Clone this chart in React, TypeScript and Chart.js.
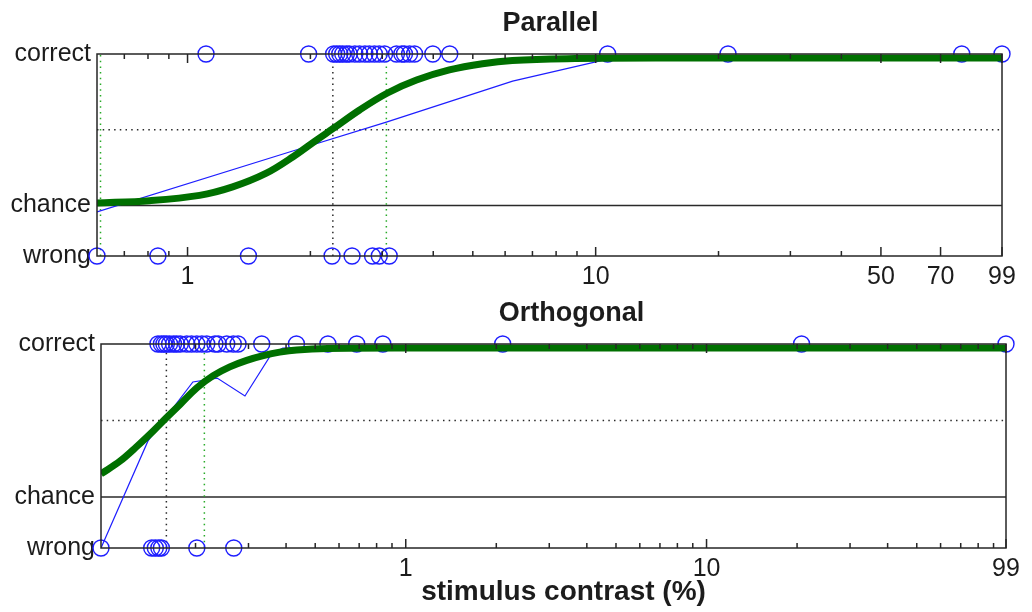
import React, { useEffect, useRef } from 'react';
import { Chart, registerables } from 'chart.js';

Chart.register(...registerables);

const FONT = '"Liberation Sans", Arial, Helvetica, sans-serif';
const TEXT = '#1c1c1c';
const BLUE = 'rgb(30,30,255)';
const GREEN = 'rgb(0,112,0)';
const DOT_GREEN = 'rgb(40,170,40)';
const DOT_BLACK = '#2a2a2a';

// y levels and their names
const Y_TICKS = [0, 0.25, 1];
const Y_LABELS = ['wrong', 'chance', 'correct'];
const CHANCE = 0.25;
const HALFWAY = 0.625;
const X_MAX = 99;

// ---- Parallel ----
const parMin = 0.6;
const parCorrectX = [1.11, 1.98, 2.28, 2.32, 2.36, 2.40, 2.45, 2.49, 2.57, 2.64, 2.72, 2.79, 2.87, 2.95, 3.04, 3.25, 3.35, 3.40, 3.50, 3.60, 3.99, 4.39, 10.7, 21.1, 78.9, 99];
const parWrongX = [0.6, 0.846, 1.41, 2.26, 2.53, 2.84, 2.95, 3.12];
const parRunX = [0.6, 1.81, 3.07, 6.26, 10.7, 99];
const parRunY = [0.218, 0.52, 0.663, 0.866, 0.975, 0.98];
const parFitX = [0.6, 0.807, 1.07, 1.29, 1.56, 1.81, 2.07, 2.27, 2.64, 3.09, 3.64, 4.38, 5.28, 6.25, 8.5, 14, 99];
const parFitY = [0.262, 0.274, 0.3, 0.342, 0.41, 0.49, 0.574, 0.63, 0.723, 0.807, 0.871, 0.921, 0.952, 0.968, 0.977, 0.98, 0.98];
const parThreshold = [2.27];
const parBounds = [0.612, 3.07];
const parTicks = [0.7, 0.8, 0.9, 1, 2, 3, 4, 5, 6, 7, 8, 9, 10, 20, 30, 40, 50, 70, 99];
const parLabeled = [1, 10, 50, 70, 99];

// ---- Orthogonal ----
const orthMin = 0.097;
const orthCorrectX = [0.150, 0.154, 0.157, 0.160, 0.164, 0.169, 0.173, 0.178, 0.187, 0.194, 0.202, 0.210, 0.218, 0.232, 0.238, 0.254, 0.267, 0.277, 0.332, 0.433, 0.551, 0.687, 0.839, 2.10, 20.7, 99];
const orthWrongX = [0.097, 0.143, 0.147, 0.151, 0.154, 0.202, 0.268];
const orthRunX = [0.097, 0.139, 0.196, 0.236, 0.292, 0.356, 0.39, 99];
const orthRunY = [0, 0.525, 0.814, 0.833, 0.745, 0.946, 0.98, 0.98];
const orthFitX = [0.097, 0.112, 0.127, 0.145, 0.160, 0.178, 0.202, 0.229, 0.260, 0.296, 0.336, 0.381, 0.434, 0.55, 1, 99];
const orthFitY = [0.363, 0.425, 0.495, 0.575, 0.638, 0.705, 0.785, 0.845, 0.888, 0.920, 0.943, 0.960, 0.971, 0.978, 0.98, 0.98];
const orthThreshold = [0.160];
const orthBounds = [0.214];
const orthTicks = [0.2, 0.3, 0.4, 0.5, 0.6, 0.7, 0.8, 0.9, 1, 2, 3, 4, 5, 6, 7, 8, 9, 10, 20, 30, 40, 50, 60, 70, 80, 90, 99];
const orthLabeled = [1, 10, 99];

const X_TITLE = 'stimulus contrast (%)';

type Pt = { x: number; y: number };
const atLevel = (xs: number[], y: number): Pt[] => xs.map((x) => ({ x, y }));
const zip = (xs: number[], ys: number[]): Pt[] => xs.map((x, i) => ({ x, y: ys[i] }));

interface Panel {
  title: string;
  titleDx: number;
  xMin: number;
  correctX: number[];
  wrongX: number[];
  runX: number[];
  runY: number[];
  fitX: number[];
  fitY: number[];
  threshold: number[];
  bounds: number[];
  ticks: number[];
  labeled: number[];
  axisWidth: number;
  rightPad: number;
  bottomHeight: number;
  xTitle?: string;
  xTitleDx?: number;
  xTitleBaseline?: number;
}

function buildDatasets(p: Panel): any[] {
  const circle = {
    showLine: false,
    pointStyle: 'circle',
    pointRadius: 8,
    pointBorderWidth: 1.4,
    pointBorderColor: BLUE,
    pointBackgroundColor: 'rgba(0,0,0,0)',
    clip: false,
    order: 3,
  };
  const vertical = (x: number, color: string) => ({
    data: [{ x, y: 0 }, { x, y: 1 }],
    showLine: true,
    borderColor: color,
    borderWidth: 1.5,
    borderDash: [1.5, 4.2],
    pointRadius: 0,
    order: 4,
  });
  return [
    {
      label: 'fit',
      data: zip(p.fitX, p.fitY),
      showLine: true,
      borderColor: GREEN,
      borderWidth: 7,
      tension: 0.35,
      pointRadius: 0,
      order: 1,
    },
    {
      label: 'running',
      data: zip(p.runX, p.runY),
      showLine: true,
      borderColor: BLUE,
      borderWidth: 1.2,
      pointRadius: 0,
      order: 2,
    },
    { label: 'correct', data: atLevel(p.correctX, 1), ...circle },
    { label: 'wrong', data: atLevel(p.wrongX, 0), ...circle },
    ...p.threshold.map((x) => vertical(x, DOT_BLACK)),
    ...p.bounds.map((x) => vertical(x, DOT_GREEN)),
    {
      label: 'halfway',
      data: [{ x: p.xMin, y: HALFWAY }, { x: X_MAX, y: HALFWAY }],
      showLine: true,
      borderColor: DOT_BLACK,
      borderWidth: 1.5,
      borderDash: [1.5, 4.2],
      pointRadius: 0,
      order: 5,
    },
    {
      label: 'chance',
      data: [{ x: p.xMin, y: CHANCE }, { x: X_MAX, y: CHANCE }],
      showLine: true,
      borderColor: '#2a2a2a',
      borderWidth: 1.5,
      pointRadius: 0,
      order: 6,
    },
  ];
}

function framePlugin(p: Panel) {
  return {
    id: 'frame',
    afterDatasetsDraw(chart: any) {
      const { ctx, chartArea: a, scales } = chart;
      const xs = scales.x;
      ctx.save();
      ctx.strokeStyle = '#262626';
      ctx.lineWidth = 1.5;
      ctx.beginPath();
      for (const v of p.ticks) {
        const px = xs.getPixelForValue(v);
        const len = p.labeled.includes(v) ? 9 : 5;
        ctx.moveTo(px, a.bottom);
        ctx.lineTo(px, a.bottom - len);
        ctx.moveTo(px, a.top);
        ctx.lineTo(px, a.top + len);
      }
      ctx.stroke();
      ctx.strokeRect(a.left, a.top, a.right - a.left, a.bottom - a.top);
      ctx.restore();
    },
    afterDraw(chart: any) {
      const { ctx, chartArea: a } = chart;
      const cx = (a.left + a.right) / 2;
      ctx.save();
      ctx.fillStyle = TEXT;
      ctx.textAlign = 'center';
      ctx.textBaseline = 'alphabetic';
      ctx.font = `bold 27px ${FONT}`;
      ctx.fillText(p.title, cx + p.titleDx, 31);
      if (p.xTitle) {
        ctx.font = `bold 28px ${FONT}`;
        ctx.fillText(p.xTitle, cx + (p.xTitleDx || 0), p.xTitleBaseline || 0);
      }
      ctx.restore();
    },
  };
}

function makeConfig(p: Panel): any {
  return {
    type: 'scatter',
    data: { datasets: buildDatasets(p) },
    plugins: [framePlugin(p)],
    options: {
      animation: false,
      responsive: false,
      maintainAspectRatio: false,
      events: [],
      layout: { padding: { top: 54, right: p.rightPad, left: 0, bottom: 0 } },
      plugins: { legend: { display: false }, tooltip: { enabled: false }, title: { display: false } },
      scales: {
        x: {
          type: 'logarithmic',
          min: p.xMin,
          max: X_MAX,
          bounds: 'data',
          grid: { display: false, drawTicks: false },
          border: { display: false },
          ticks: {
            autoSkip: false,
            maxRotation: 0,
            padding: 6,
            color: TEXT,
            font: { family: FONT, size: 25 },
            callback: (v: any) => (p.labeled.includes(Number(v)) ? String(v) : ''),
          },
          afterBuildTicks: (s: any) => {
            s.ticks = p.ticks.map((v) => ({ value: v }));
          },
          afterFit: (s: any) => {
            s.height = p.bottomHeight;
          },
        },
        y: {
          type: 'linear',
          min: 0,
          max: 1,
          grid: { display: false, drawTicks: false },
          border: { display: false },
          ticks: {
            padding: 6,
            color: TEXT,
            font: { family: FONT, size: 25 },
            callback: (v: any) => {
              const i = Y_TICKS.indexOf(Number(v));
              return i >= 0 ? Y_LABELS[i] : '';
            },
          },
          afterBuildTicks: (s: any) => {
            s.ticks = Y_TICKS.map((v) => ({ value: v }));
          },
          afterFit: (s: any) => {
            s.width = p.axisWidth;
          },
        },
      },
    },
  };
}

const parallel: Panel = {
  title: 'Parallel',
  titleDx: 1,
  xMin: parMin,
  correctX: parCorrectX,
  wrongX: parWrongX,
  runX: parRunX,
  runY: parRunY,
  fitX: parFitX,
  fitY: parFitY,
  threshold: parThreshold,
  bounds: parBounds,
  ticks: parTicks,
  labeled: parLabeled,
  axisWidth: 97,
  rightPad: 30,
  bottomHeight: 34,
};

const orthogonal: Panel = {
  title: 'Orthogonal',
  titleDx: 18,
  xMin: orthMin,
  correctX: orthCorrectX,
  wrongX: orthWrongX,
  runX: orthRunX,
  runY: orthRunY,
  fitX: orthFitX,
  fitY: orthFitY,
  threshold: orthThreshold,
  bounds: orthBounds,
  ticks: orthTicks,
  labeled: orthLabeled,
  axisWidth: 101,
  rightPad: 26,
  bottomHeight: 64,
  xTitle: X_TITLE,
  xTitleDx: 10,
  xTitleBaseline: 310,
};

function PanelChart({ panel, top, height }: { panel: Panel; top: number; height: number }) {
  const ref = useRef<HTMLCanvasElement | null>(null);
  useEffect(() => {
    if (!ref.current) return;
    const chart = new Chart(ref.current, makeConfig(panel));
    return () => chart.destroy();
  }, [panel]);
  return (
    <canvas
      ref={ref}
      width={1032}
      height={height}
      style={{ position: 'absolute', left: 0, top, width: 1032, height, display: 'block' }}
    />
  );
}

export default function App() {
  return (
    <div style={{ position: 'absolute', left: 0, top: 0, width: 1032, height: 612, background: '#fff', overflow: 'hidden' }}>
      <PanelChart panel={parallel} top={0} height={290} />
      <PanelChart panel={orthogonal} top={290} height={322} />
    </div>
  );
}
